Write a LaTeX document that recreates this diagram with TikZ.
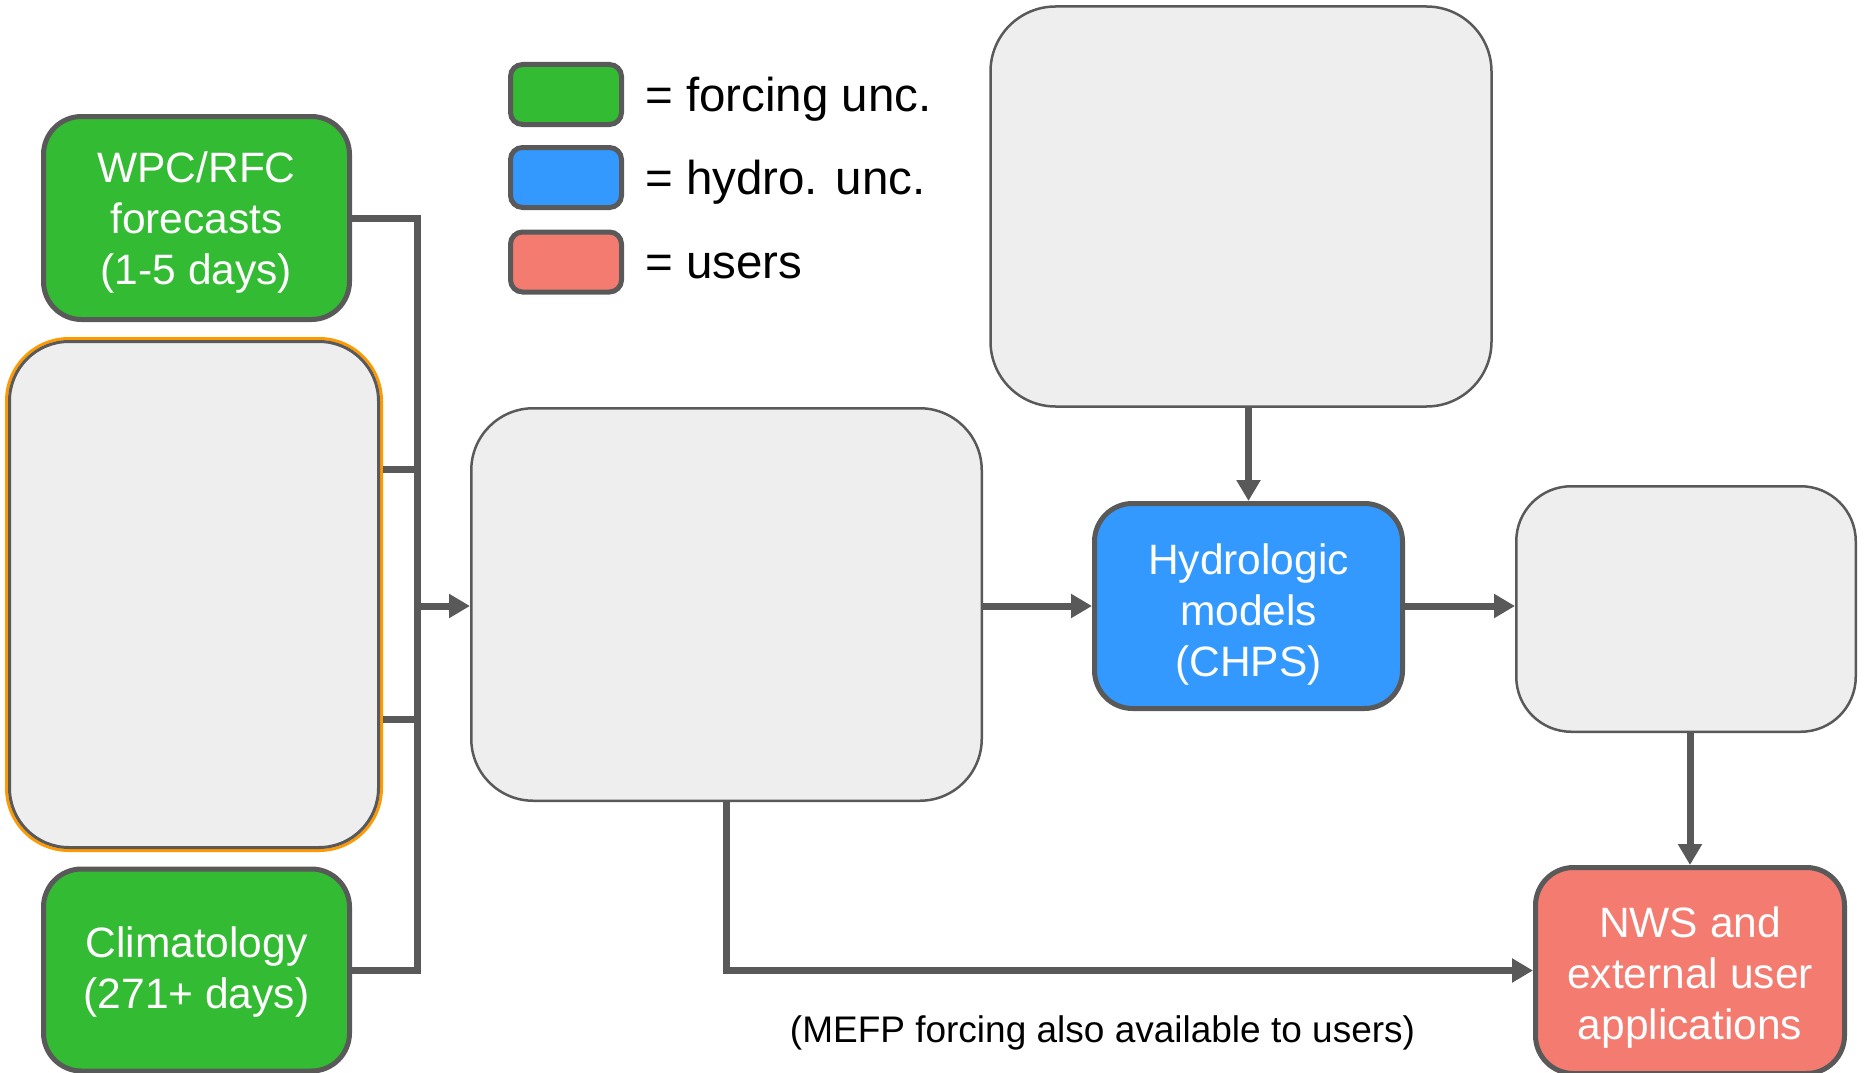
\documentclass[tikz,border=0pt]{standalone}
\usepackage{fontspec}
\setmainfont{Liberation Sans}
\usetikzlibrary{arrows.meta}
\definecolor{edgegray}{HTML}{595959}
\definecolor{boxgray}{HTML}{EEEEEE}
\definecolor{forcegreen}{HTML}{33BB33}
\definecolor{hydroblue}{HTML}{3399FF}
\definecolor{usersalmon}{HTML}{F37B70}
\definecolor{ensorange}{HTML}{FF9900}
\begin{document}
\begin{tikzpicture}[x=1pt,y=-1pt,
  colorbox/.style={draw=edgegray, line width=5pt, rounded corners=38pt, inner sep=0pt},
  boxlabel/.style={text=white, align=center, inner sep=0pt, font=\fontsize{42.5}{51}\selectfont},
  blankbox/.style={draw=edgegray, line width=2.5pt, fill=boxgray, inner sep=0pt},
  conn/.style={draw=edgegray, line width=7pt},
  arrow/.style={conn, -{Triangle[length=21pt,width=23pt]}},
  keybox/.style={draw=edgegray, line width=5pt, rounded corners=12pt,
    minimum width=111pt, minimum height=60pt, inner sep=0pt},
  keytext/.style={anchor=base west, inner sep=0pt, font=\fontsize{47.5}{57}\selectfont}
]
\useasboundingbox (0,0) rectangle (1864,1073);

% forcing inputs
\node[colorbox, fill=forcegreen, minimum width=306pt, minimum height=203pt,
  label={[boxlabel, yshift=-5pt]center:WPC/RFC\\forecasts\\(1-5 days)}] (wpc) at (196.5,218) {};
\node[blankbox, draw=ensorange, line width=3pt, rounded corners=62.5pt,
  minimum width=375pt, minimum height=512pt] (ens) at (194,594.5) {};
\node[draw=edgegray, line width=3pt, rounded corners=59.5pt, inner sep=0pt,
  minimum width=369pt, minimum height=506pt] (ensrim) at (ens.center) {};
\node[colorbox, fill=forcegreen, minimum width=306pt, minimum height=202pt,
  label={[boxlabel, yshift=-2pt]center:Climatology\\(271+ days)}] (clim) at (196.5,970) {};

% processing chain
\node[blankbox, rounded corners=62pt, minimum width=510.5pt, minimum height=392.5pt] (mefp) at (726.5,604.5) {};
\node[blankbox, rounded corners=65pt, minimum width=501pt, minimum height=400pt] (upper) at (1241,206.5) {};
\node[colorbox, fill=hydroblue, minimum width=308pt, minimum height=205pt,
  label={[boxlabel, yshift=-8pt]center:Hydrologic\\models\\(CHPS)}] (hydro) at (1248.5,606) {};
\node[blankbox, rounded corners=55pt, minimum width=339.5pt, minimum height=245.5pt] (post) at (1686,609) {};
\node[colorbox, fill=usersalmon, minimum width=309pt, minimum height=206pt,
  label={[boxlabel, yshift=-7pt]center:NWS and\\external user\\applications}] (nws) at (1690,970.5) {};

% key
\node[keybox, fill=forcegreen] (kf) at (566,94.5) {};
\node[keybox, fill=hydroblue] (kh) at (566,177.5) {};
\node[keybox, fill=usersalmon] (ku) at (566,262) {};
\node[keytext] (tf) at (645,111) {= forcing unc.};
\node[keytext] (th) at (645,194) {= hydro. unc.};
\node[keytext] (tu) at (645,278) {= users};

% input bus
\coordinate (busT) at (417,218);
\coordinate (busA) at (417,469);
\coordinate (busM) at (417,606);
\coordinate (busC) at (417,719);
\coordinate (busB) at (417,970);
\draw[conn] (wpc.east) -- (busT) -- (busB) -- (clim.east);
\draw[conn] (ens.east |- busA) -- (busA);
\draw[conn] (ens.east |- busC) -- (busC);
\draw[arrow] (busM) -- (busM -| mefp.west);

% flow connectors
\draw[arrow] (mefp.east |- hydro.west) -- (hydro.west);
\draw[arrow] (hydro.north |- upper.south) -- (hydro.north);
\draw[arrow] (hydro.east) -- (hydro.east -| post.west);
\draw[arrow] (nws.north |- post.south) -- (nws.north);
\draw[arrow] (mefp.south) |- (nws.west);

\node[anchor=base, inner sep=0pt, font=\fontsize{37}{44}\selectfont] (note) at (1102.5,1042)
  {(MEFP forcing also available to users)};
\end{tikzpicture}
\end{document}
